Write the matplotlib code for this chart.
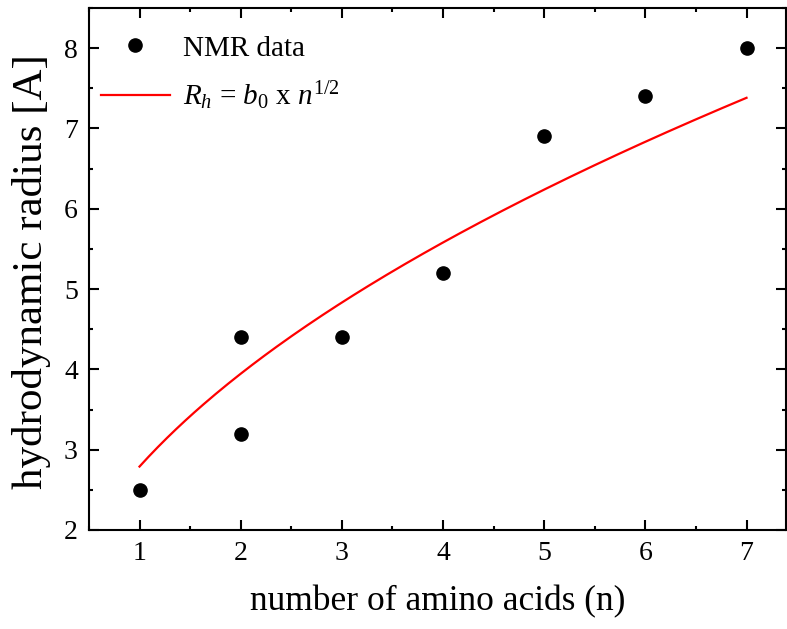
import numpy as np
import matplotlib
matplotlib.use("Agg")
import matplotlib.pyplot as plt
from matplotlib.ticker import MultipleLocator

plt.rcParams['font.family'] = ['Liberation Serif', 'DejaVu Serif']
plt.rcParams['mathtext.fontset'] = 'custom'
plt.rcParams['mathtext.rm'] = 'Liberation Serif'
plt.rcParams['mathtext.it'] = 'Liberation Serif:italic'

# NMR measurements
n_amino = [1, 2, 2, 3, 4, 5, 6, 7]
radius = [2.5, 4.4, 3.2, 4.4, 5.2, 6.9, 7.4, 8.0]

# square-root scaling fit R_h = b0 * n^(1/2)
b0 = 2.79
n_fit = np.linspace(1, 7, 200)
r_fit = b0 * np.sqrt(n_fit)

fig = plt.figure(figsize=(7.87, 6.29), dpi=100)
ax = fig.add_axes([0.113, 0.1574, 0.8857, 0.8299])

ax.plot(n_amino, radius, 'o', color='black', markersize=9.5, label='NMR data')
ax.plot(n_fit, r_fit, color='red', lw=1.6, label=r'$R_h$ = $b_0$ x $n^{1/2}$')

ax.set_xlim(0.5, 7.39)
ax.set_ylim(2, 8.5)
ax.xaxis.set_major_locator(MultipleLocator(1))
ax.xaxis.set_minor_locator(MultipleLocator(0.5))
ax.yaxis.set_major_locator(MultipleLocator(1))
ax.yaxis.set_minor_locator(MultipleLocator(0.5))

for s in ax.spines.values():
    s.set_linewidth(1.5)
ax.tick_params(which='both', direction='in', top=True, right=True, width=1.5,
               labelsize=20, pad=8)
ax.tick_params(which='major', length=7)
ax.tick_params(which='minor', length=3)

ax.set_xlabel('number of amino acids (n)', fontsize=25.5)
ax.set_ylabel('hydrodynamic radius [A]', fontsize=31)
ax.xaxis.label.set_verticalalignment('center')
ax.yaxis.label.set_verticalalignment('center')
ax.xaxis.set_label_coords(0.5, -0.138)
ax.yaxis.set_label_coords(-0.083, 0.496)

ax.legend(loc='upper left', bbox_to_anchor=(-0.012, 0.987), frameon=False,
          fontsize=21, handlelength=2.35, handletextpad=0.45, labelspacing=0.6,
          borderaxespad=0.3)

fig.savefig('out.png', dpi=100)
